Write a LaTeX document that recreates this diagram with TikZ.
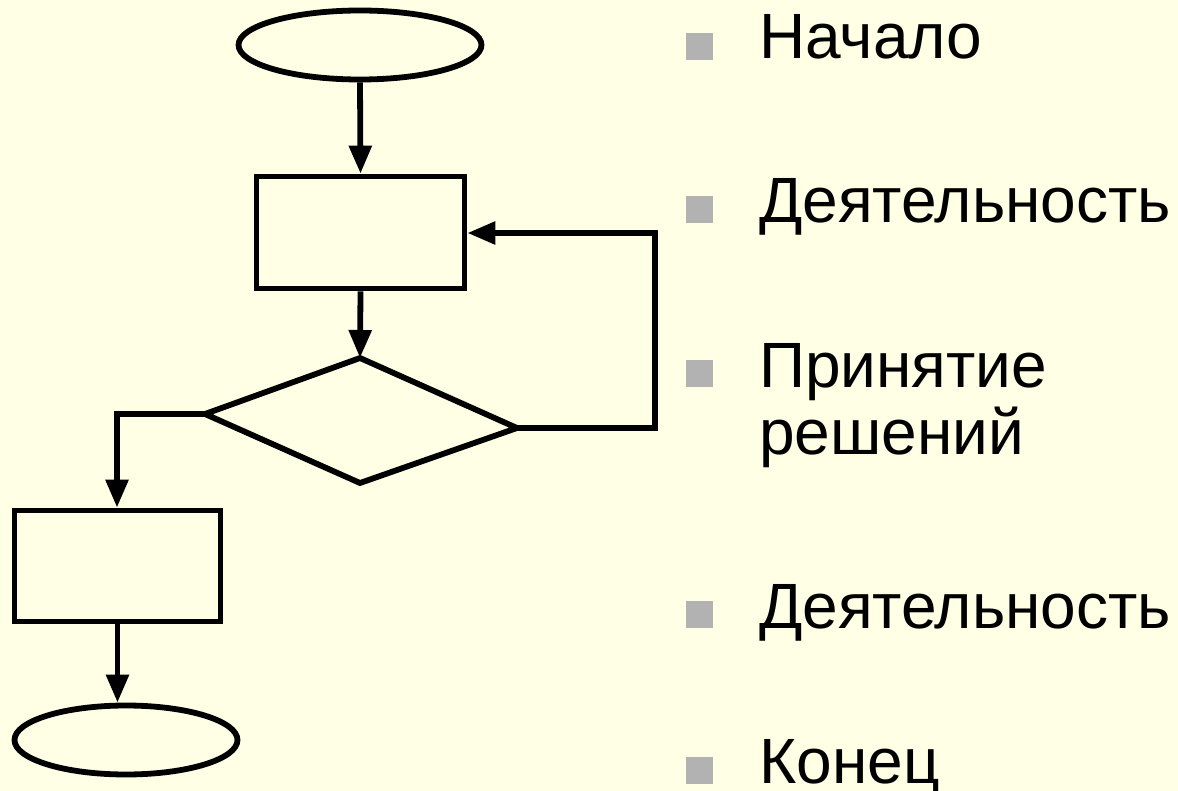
\documentclass[tikz,border=0pt]{standalone}
\usepackage{fontspec}
\setmainfont{Liberation Sans}
\usetikzlibrary{arrows.meta,shapes.geometric}
\definecolor{bgyellow}{RGB}{255,255,229}
\definecolor{bulletgray}{RGB}{178,178,178}
\begin{document}
\begin{tikzpicture}[x=1pt,y=-1pt,
  shapeline/.style={draw=black,line width=5.8pt},
  terminal/.style={shapeline,ellipse,inner sep=0pt},
  actbox/.style={shapeline,rectangle,inner sep=0pt},
  conn/.style={draw=black,line width=5.8pt,-{Triangle[length=28pt,width=22pt]}},
  bulletbox/.style={fill=bulletgray,rectangle,inner sep=0pt,minimum width=27pt,minimum height=27pt,anchor=south west},
  itemtext/.style={inner sep=0pt,anchor=base west,font=\fontsize{64}{67}\selectfont,align=left}
]
\fill[bgyellow] (0,0) rectangle (1178,791);
\useasboundingbox (0,0) rectangle (1178,791);

% flowchart
\node[terminal,minimum width=243pt,minimum height=69pt] (start) at (360,45) {};
\node[actbox,minimum width=208pt,minimum height=112pt] (act1) at (360.5,232.5) {};
\coordinate (dT) at (360,358);
\coordinate (dL) at (205,414);
\coordinate (dR) at (517,428);
\coordinate (dB) at (360,483);
\draw[shapeline,line join=miter] (dT) -- (dR) -- (dB) -- (dL) -- cycle;
\node[actbox,minimum width=206pt,minimum height=111pt] (act2) at (117.5,566) {};
\node[terminal,minimum width=223pt,minimum height=69pt] (stop) at (126,740) {};
\coordinate (loopR) at (655,428);
\coordinate (loopT) at (655,233);
\coordinate (leftC) at (117,414);

\draw[conn] (start.south) -- (act1.north);
\draw[conn] (act1.south) -- (dT);
\draw[conn] (dR) -- (loopR) -- (loopT) -- (act1.east |- loopT);
\draw[conn] (dL) -- (leftC) -- (leftC |- act2.north);
\draw[conn] (act2.south) -- (act2.south |- stop.north);

% legend
\node[bulletbox] (b1) at (686,60) {};
\node[itemtext] (t1) at (759,59) {Начало};
\node[bulletbox] (b2) at (686,223) {};
\node[itemtext] (t2) at (759,223) {Деятельность};
\node[bulletbox] (b3) at (686,387) {};
\node[itemtext] (t3) at (759,454) {Принятие\\решений};
\node[bulletbox] (b4) at (686,628) {};
\node[itemtext] (t4) at (759,628) {Деятельность};
\node[bulletbox] (b5) at (686,784) {};
\node[itemtext] (t5) at (759,783) {Конец};
\end{tikzpicture}
\end{document}
